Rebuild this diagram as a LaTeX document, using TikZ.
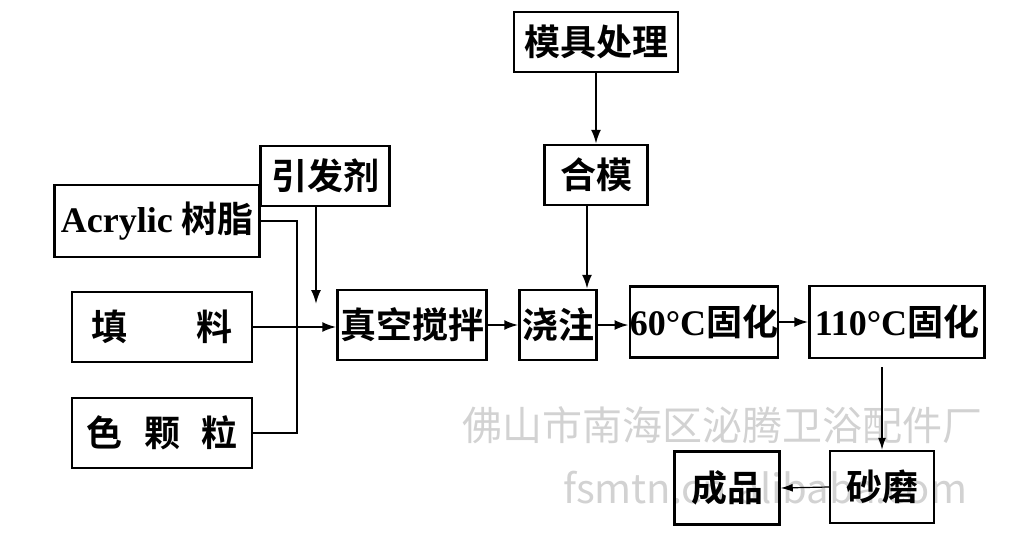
\documentclass[tikz,border=0pt]{standalone}
\usepackage{fontspec}
\setmainfont{Liberation Serif}
\newfontfamily\cjk{Noto Sans CJK SC}[BoldFont={Noto Sans CJK SC Bold}]
\usetikzlibrary{arrows.meta}

\tikzset{
  stepbox/.style={draw, line width=2.5pt, minimum height=60pt, inner sep=0pt,
    font=\fontsize{36}{40}\selectfont\cjk\bfseries},
  flow/.style={line width=2pt, -{Latex[length=14pt,width=10pt]}},
  thinflow/.style={line width=1.2pt, -{Latex[length=12pt,width=8pt]}},
  wmark/.style={text=gray!35, inner sep=0pt, font=\fontsize{40}{44}\selectfont\cjk}
}

\begin{document}
\begin{tikzpicture}[x=1pt,y=-1pt]
  \useasboundingbox (0,0) rectangle (1024,539);

  % watermark
  \node[wmark, anchor=west] (wmname) at (462,425) {佛山市南海区泌腾卫浴配件厂};
  \node[wmark, anchor=west] (wmsite) at (563,488) {fsmtn.cn.alibaba.com};

  % the boxes
  \node[stepbox, minimum width=164pt] (mold) at (596,42) {模具处理};
  \node[stepbox, minimum width=103pt] (close) at (596,175) {合模};
  \node[stepbox, minimum width=129pt] (init) at (325,176) {引发剂};
  \node[stepbox, minimum width=205pt, minimum height=72pt] (resin) at (157,221) {{\rmfamily Acrylic} 树脂};
  \node[stepbox, minimum width=180pt, minimum height=70pt] (filler) at (162,327) {填\hspace{1.9em}料};
  \node[stepbox, minimum width=180pt, minimum height=70pt] (color) at (162,433) {色\hspace{.6em}颗\hspace{.6em}粒};
  \node[stepbox, minimum width=149pt, minimum height=70pt] (mix) at (412,325) {真空搅拌};
  \node[stepbox, minimum width=77pt, minimum height=70pt] (pour) at (558,325) {浇注};
  \node[stepbox, minimum width=141pt, minimum height=71pt] (cure60) at (704,322) {{\rmfamily 60°C}固化};
  \node[stepbox, minimum width=175pt, minimum height=72pt] (cure110) at (897,322) {{\rmfamily 110°C}固化};
  \node[stepbox, minimum width=104pt, minimum height=72pt] (sand) at (882,487) {砂磨};
  \node[stepbox, minimum width=105pt, minimum height=73pt] (done) at (727,488) {成品};
  \coordinate (mixin) at (316,304);

  % raw materials
  \draw[line width=2pt] (resin.east) -- ++(36,0) |- (color.east);
  \draw[flow] (filler.east) -- (filler.east -| mix.west);
  \draw[flow] (init.south -| mixin) -- (mixin);

  % mould
  \draw[flow] (mold.south) -- (close.north);
  \draw[flow] ([xshift=-9pt]close.south) -- ([xshift=29pt]pour.north);

  % process line
  \draw[flow] (mix.east) -- (pour.west);
  \draw[flow] (pour.east) -- (pour.east -| cure60.west);
  \draw[flow] (cure60.east) -- (cure110.west);
  \draw[thinflow] ([yshift=-8pt]cure110.south -| sand.north) -- (sand.north);
  \draw[thinflow] (sand.west) -- (done.east);
\end{tikzpicture}
\end{document}
